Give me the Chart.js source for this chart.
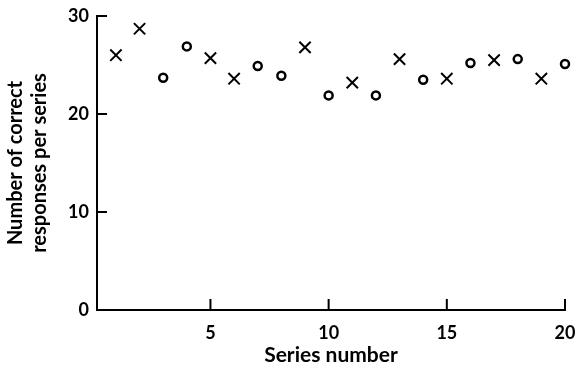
<!DOCTYPE html>
<html>
<head>
<meta charset="utf-8">
<script src="https://cdn.jsdelivr.net/npm/chart.js@4/dist/chart.umd.min.js"></script>
<style>
  html, body { margin: 0; padding: 0; background: #fff; }
  #wrap { width: 577px; height: 371px; }
</style>
</head>
<body>
<div id="wrap"><canvas id="c" width="577" height="371"></canvas></div>
<script>
const crossSeries = [1, 2, 5, 6, 9, 11, 13, 15, 17, 19];
const crossValues = [26.0, 28.7, 25.7, 23.6, 26.8, 23.2, 25.6, 23.6, 25.5, 23.6];
const circleSeries = [3, 4, 7, 8, 10, 12, 14, 16, 18, 20];
const circleValues = [23.7, 26.9, 24.9, 23.9, 21.9, 21.9, 23.5, 25.2, 25.6, 25.1];
const xTickValues = [5, 10, 15, 20];
const yTickValues = [0, 10, 20, 30];
const xTitle = 'Series number';
const yTitle = ['Number of correct', 'responses per series'];

const FONT = 'Lato, "Open Sans", "DejaVu Sans", sans-serif';

const inwardTicks = {
  id: 'inwardTicks',
  afterDraw(chart) {
    const ctx = chart.ctx;
    const xs = chart.scales.x, ys = chart.scales.y;
    const a = chart.chartArea;
    ctx.save();
    ctx.strokeStyle = '#000';
    ctx.lineWidth = 2;
    ctx.beginPath();
    ys.ticks.forEach(t => {
      if (t.value === 0) return;
      const py = ys.getPixelForValue(t.value);
      ctx.moveTo(a.left, py);
      ctx.lineTo(a.left + 10, py);
    });
    xs.ticks.forEach(t => {
      const px = xs.getPixelForValue(t.value);
      ctx.moveTo(px, a.bottom);
      ctx.lineTo(px, a.bottom - 11);
    });
    ctx.stroke();
    ctx.restore();
  }
};

new Chart(document.getElementById('c'), {
  type: 'scatter',
  data: {
    datasets: [
      {
        data: crossSeries.map((s, i) => ({ x: s, y: crossValues[i] })),
        pointStyle: 'crossRot',
        pointRadius: 8,
        borderColor: '#000',
        borderWidth: 2,
        clip: false
      },
      {
        data: circleSeries.map((s, i) => ({ x: s, y: circleValues[i] })),
        pointStyle: 'circle',
        pointRadius: 4,
        backgroundColor: '#fff',
        borderColor: '#000',
        borderWidth: 2.5,
        clip: false
      }
    ]
  },
  plugins: [inwardTicks],
  options: {
    responsive: false,
    animation: false,
    events: [],
    layout: { padding: { top: 16, right: 12, bottom: 0, left: 0 } },
    plugins: { legend: { display: false }, tooltip: { enabled: false } },
    scales: {
      x: {
        type: 'linear',
        min: 0.2,
        max: 20,
        afterBuildTicks: s => { s.ticks = xTickValues.map(v => ({ value: v })); },
        afterFit: s => { s.height = 61; s.paddingLeft = 0; s.paddingRight = 0; },
        grid: { display: false, drawTicks: false },
        border: { display: true, color: '#000', width: 2 },
        ticks: {
          padding: 12,
          color: '#000',
          font: { family: FONT, size: 18, weight: 'bold' }
        },
        title: {
          display: true,
          text: xTitle,
          color: '#000',
          font: { family: FONT, size: 21, weight: 'bold', lineHeight: 1.2 },
          padding: { top: 0, bottom: 3 }
        }
      },
      y: {
        type: 'linear',
        min: 0,
        max: 30,
        afterBuildTicks: s => { s.ticks = yTickValues.map(v => ({ value: v })); },
        afterFit: s => { s.width = 97; s.paddingTop = 0; s.paddingBottom = 0; },
        grid: { display: false, drawTicks: false },
        border: { display: true, color: '#000', width: 2 },
        ticks: {
          padding: 8,
          color: '#000',
          font: { family: FONT, size: 18, weight: 'bold' }
        },
        title: {
          display: true,
          text: yTitle,
          color: '#000',
          font: { family: FONT, size: 20, weight: 'bold', lineHeight: 1.2 },
          padding: { top: 4, bottom: 0 }
        }
      }
    }
  }
});
</script>
</body>
</html>
